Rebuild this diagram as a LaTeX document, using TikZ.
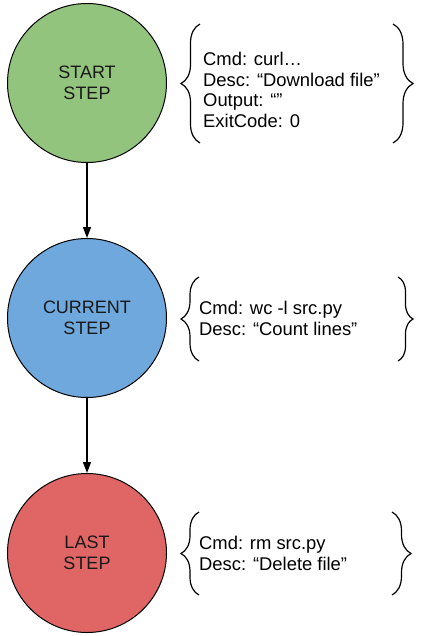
\documentclass[tikz,border=0pt]{standalone}
\usepackage{fontspec}
\setmainfont{Liberation Sans}
\usetikzlibrary{decorations.pathreplacing,arrows.meta}
\definecolor{stepgreen}{HTML}{93C47D}
\definecolor{stepblue}{HTML}{6FA8DC}
\definecolor{stepred}{HTML}{E06666}
\begin{document}
\begin{tikzpicture}[x=1pt,y=-1pt,
 stepnode/.style={circle,draw=black,line width=1pt,minimum size=159pt,inner sep=0pt,align=center,text=black!90,font=\fontsize{18}{21}\selectfont},
 infoline/.style={anchor=base west,inner sep=0pt,font=\fontsize{18.4}{21}\selectfont},
 bracket/.style={decorate,decoration={brace,amplitude=#1},line width=1.2pt},
 flow/.style={-{Triangle[width=8pt,length=11pt]},line width=1.2pt}]
\useasboundingbox (0,0) rectangle (420,636);
\fill[white] (0,0) rectangle (420,636);

% step circles
\node[stepnode,fill=stepgreen] (s1) at (87,83) {START\\STEP};
\node[stepnode,fill=stepblue] (s2) at (87,318) {CURRENT\\STEP};
\node[stepnode,fill=stepred] (s3) at (87,553) {LAST\\STEP};

% connectors
\draw[flow] (s1) -- (s2);
\draw[flow] (s2) -- (s3);

% block 1
\draw[bracket=19pt] (200,143) -- (200,24);
\draw[bracket=20pt] (393,24) -- (393,143);
\node[infoline] (a1) at (203,66) {Cmd: curl…};
\node[infoline] (a2) at (203,86.5) {Desc: “Download file”};
\node[infoline] (a3) at (203,107) {Output: “”};
\node[infoline] (a4) at (203,127.5) {ExitCode: 0};

% block 2
\draw[bracket=18pt] (199,361) -- (199,277);
\draw[bracket=15pt] (398,277) -- (398,361);
\node[infoline] (b1) at (199,314) {Cmd: wc -l src.py};
\node[infoline] (b2) at (199,335) {Desc: “Count lines”};

% block 3
\draw[bracket=18pt] (199,595) -- (199,512);
\draw[bracket=19pt] (392,512) -- (392,595);
\node[infoline] (c1) at (199,549) {Cmd: rm src.py};
\node[infoline] (c2) at (199,570) {Desc: “Delete file”};
\end{tikzpicture}
\end{document}
